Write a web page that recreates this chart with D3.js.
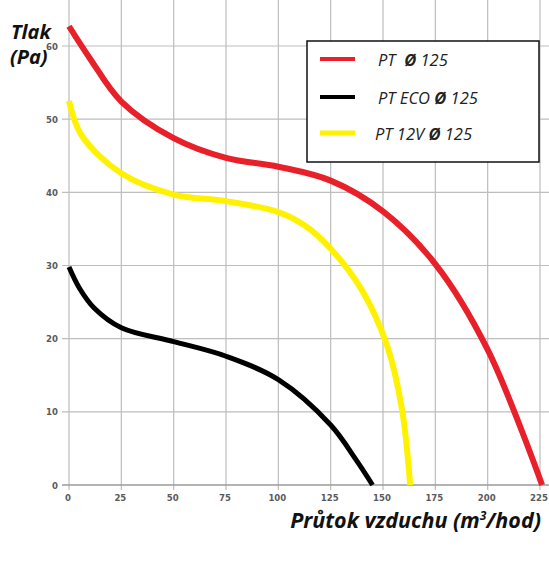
<!DOCTYPE html>
<html>
<head>
<meta charset="utf-8">
<script src="https://cdn.jsdelivr.net/npm/d3@7"></script>
<style>
  html, body { margin: 0; padding: 0; background: #fff; }
  svg { display: block; }
</style>
</head>
<body>
<svg id="chart" width="549" height="564"></svg>
<script>
// airflow (m3/hod) vs pressure (Pa)
const xTicks = [0, 25, 50, 75, 100, 125, 150, 175, 200, 225];
const yTicks = [0, 10, 20, 30, 40, 50, 60];

const redFlow = [0, 10, 25, 50, 75, 100, 125, 150, 175, 200, 226];
const redPa   = [62.7, 58.3, 52.4, 47.4, 44.7, 43.5, 41.6, 37.4, 30.2, 18.5, 0];

const blackFlow = [0, 5, 12, 25, 50, 75, 100, 125, 137, 145];
const blackPa   = [29.8, 26.9, 24.2, 21.5, 19.6, 17.6, 14.4, 8.2, 3.5, 0];

const yellowFlow = [0, 6, 25, 50, 75, 100, 113, 125, 140, 152, 159, 163];
const yellowPa   = [52.5, 47.8, 42.6, 39.7, 38.8, 37.3, 35.4, 32.3, 26.6, 19, 10.5, 0];

const seriesNames = ["PT", "PT ECO", "PT 12V"];
const seriesColors = ["#e8202a", "#000000", "#fff200"];

const svg = d3.select("#chart");

const x = d3.scaleLinear().domain([0, 225]).range([69, 540]);
const y = d3.scaleLinear().domain([0, 60]).range([485, 46]);

// grid
const grid = svg.append("g");
grid.selectAll(".vgrid")
  .data(xTicks)
  .enter().append("line")
  .attr("x1", d => x(d)).attr("x2", d => x(d))
  .attr("y1", 0).attr("y2", y(0) + 5)
  .attr("stroke", "#bdbdbd")
  .attr("stroke-width", 1.2);

grid.selectAll(".hgrid")
  .data(yTicks)
  .enter().append("line")
  .attr("x1", x(0) - 7).attr("x2", 549)
  .attr("y1", d => y(d)).attr("y2", d => y(d))
  .attr("stroke", d => d === 0 ? "#9a9a9a" : "#bdbdbd")
  .attr("stroke-width", d => d === 0 ? 1.6 : 1.2);

// tick labels
svg.append("g")
  .selectAll("text")
  .data(yTicks)
  .enter().append("text")
  .attr("x", x(0) - 11)
  .attr("y", d => y(d) + 3.5)
  .attr("text-anchor", "end")
  .style("font-family", "'DejaVu Sans Condensed', 'DejaVu Sans'")
  .style("font-stretch", "condensed")
  .style("font-size", "9.5px")
  .style("font-weight", "bold")
  .attr("fill", "#5a5a5a")
  .text(d => d);

svg.append("g")
  .selectAll("text")
  .data(xTicks)
  .enter().append("text")
  .attr("x", d => x(d) - 1)
  .attr("y", y(0) + 16)
  .attr("text-anchor", "middle")
  .style("font-family", "'DejaVu Sans Condensed', 'DejaVu Sans'")
  .style("font-stretch", "condensed")
  .style("font-size", "9.5px")
  .style("font-weight", "bold")
  .attr("fill", "#5a5a5a")
  .text(d => d);

// curves
const line = d3.line()
  .x(d => x(d[0]))
  .y(d => y(d[1]))
  .curve(d3.curveCatmullRom.alpha(0.5));

const curves = [
  { flow: redFlow, pa: redPa, color: seriesColors[0], w: 6 },
  { flow: yellowFlow, pa: yellowPa, color: seriesColors[2], w: 6 },
  { flow: blackFlow, pa: blackPa, color: seriesColors[1], w: 5 }
];

curves.forEach(c => {
  svg.append("path")
    .datum(c.flow.map((f, i) => [f, c.pa[i]]))
    .attr("d", line)
    .attr("fill", "none")
    .attr("stroke", c.color)
    .attr("stroke-width", c.w);
});

// legend
const legend = svg.append("g");
legend.append("rect")
  .attr("x", 307).attr("y", 41)
  .attr("width", 232).attr("height", 121)
  .attr("fill", "#fff")
  .attr("stroke", "#111")
  .attr("stroke-width", 1.5);

const legendY = [59, 97, 133];
const legendTextX = [378, 378, 375];
seriesNames.forEach((name, i) => {
  legend.append("line")
    .attr("x1", 320).attr("x2", 355)
    .attr("y1", legendY[i]).attr("y2", legendY[i])
    .attr("stroke", seriesColors[i])
    .attr("stroke-width", i === 2 ? 5 : 4);
  const t = legend.append("text")
    .attr("x", legendTextX[i])
    .attr("y", legendY[i] + 7)
    .style("font-family", "'Open Sans', sans-serif")
    .style("font-style", "italic")
    .style("font-size", "16.5px")
    .attr("fill", "#222")
    .attr("xml:space", "preserve");
  t.append("tspan").text(name + (i === 0 ? "  " : " "));
  t.append("tspan").style("font-weight", "bold").text("\u00D8");
  t.append("tspan").text(" 125");
});

// axis titles
const titleFont = "'Open Sans', sans-serif";
svg.append("text")
  .attr("x", 11).attr("y", 39)
  .style("font-family", titleFont)
  .style("font-style", "italic")
  .style("font-weight", "bold")
  .style("font-size", "20px")
  .attr("fill", "#111")
  .text("Tlak");
svg.append("text")
  .attr("x", 10).attr("y", 64)
  .style("font-family", titleFont)
  .style("font-style", "italic")
  .style("font-weight", "bold")
  .style("font-size", "20px")
  .attr("fill", "#111")
  .text("(Pa)");

const xt = svg.append("text")
  .attr("x", 541).attr("y", 528)
  .attr("text-anchor", "end")
  .style("font-family", titleFont)
  .style("font-style", "italic")
  .style("font-weight", "bold")
  .style("font-size", "21.5px")
  .attr("fill", "#111");
xt.append("tspan").text("Průtok vzduchu (m");
xt.append("tspan").attr("dy", -8).style("font-size", "12px").text("3");
xt.append("tspan").attr("dy", 8).text("/hod)");
</script>
</body>
</html>
